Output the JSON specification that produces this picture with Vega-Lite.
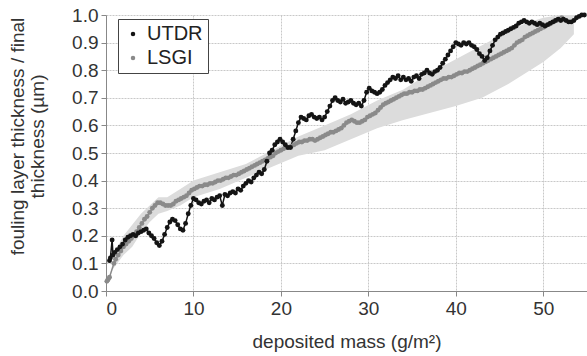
{
 "$schema": "https://vega.github.io/schema/vega-lite/v6.json",
 "width": 481, "height": 276,
 "autosize": {"type": "none"},
 "padding": {"left": 106, "top": 15, "right": 0, "bottom": 65},
 "background": "white",
 "config": {
  "font": "Liberation Sans",
  "view": {"stroke": null},
  "axis": {"labelFontSize": 19, "titleFontSize": 19, "titleFontWeight": "normal", "labelColor": "#333", "titleColor": "#333", "domainColor": "#888", "tickColor": "#888", "tickSize": 5, "labelPadding": 3, "gridColor": "#c8c8c8", "gridDash": [2, 1]},
  "legend": {"title": null, "orient": "none", "legendX": 12, "legendY": 4, "fillColor": "white", "strokeColor": "#444", "padding": 5, "labelFontSize": 20, "labelColor": "#222", "symbolSize": 20, "symbolType": "circle", "symbolStrokeWidth": 0, "rowPadding": 4, "labelOffset": 4}
 },
 "datasets": {
  "band": [
   {"x":0.8,"y":0.08,"hi":0.13},{"x":2,"y":0.13,"hi":0.2},{"x":3,"y":0.16,"hi":0.24},{"x":4,"y":0.21,"hi":0.28},{"x":5,"y":0.25,"hi":0.31},{"x":6,"y":0.28,"hi":0.34},{"x":7,"y":0.29,"hi":0.34},{"x":8.5,"y":0.31,"hi":0.37},{"x":10,"y":0.34,"hi":0.4},{"x":13,"y":0.37,"hi":0.43},{"x":16,"y":0.41,"hi":0.46},{"x":19,"y":0.45,"hi":0.51},{"x":22,"y":0.49,"hi":0.56},{"x":25,"y":0.51,"hi":0.6},{"x":28,"y":0.55,"hi":0.64},{"x":31,"y":0.59,"hi":0.69},{"x":34,"y":0.62,"hi":0.73},{"x":37,"y":0.645,"hi":0.79},{"x":40,"y":0.67,"hi":0.84},{"x":43,"y":0.7,"hi":0.89},{"x":46,"y":0.75,"hi":0.94},{"x":48,"y":0.79,"hi":0.97},{"x":50,"y":0.83,"hi":0.99},{"x":52,"y":0.88,"hi":1.0},{"x":53.5,"y":0.93,"hi":1.0}
  ],
  "pts": [
   {"s":"LSGI","x":0.1,"y":0.035},{"s":"LSGI","x":0.2,"y":0.04},{"s":"LSGI","x":0.3,"y":0.045},{"s":"LSGI","x":0.4,"y":0.05},
   {"s":"LSGI","x":0.9,"y":0.1},{"s":"LSGI","x":1.1,"y":0.115},{"s":"LSGI","x":1.4,"y":0.13},{"s":"LSGI","x":1.7,"y":0.145},{"s":"LSGI","x":2.0,"y":0.16},{"s":"LSGI","x":2.3,"y":0.17},{"s":"LSGI","x":2.6,"y":0.18},{"s":"LSGI","x":2.9,"y":0.19},{"s":"LSGI","x":3.2,"y":0.2},{"s":"LSGI","x":3.5,"y":0.215},{"s":"LSGI","x":3.8,"y":0.23},{"s":"LSGI","x":4.1,"y":0.245},{"s":"LSGI","x":4.4,"y":0.26},{"s":"LSGI","x":4.7,"y":0.27},{"s":"LSGI","x":5.0,"y":0.285},{"s":"LSGI","x":5.3,"y":0.3},{"s":"LSGI","x":5.6,"y":0.31},{"s":"LSGI","x":5.9,"y":0.32},{"s":"LSGI","x":6.2,"y":0.32},{"s":"LSGI","x":6.5,"y":0.315},{"s":"LSGI","x":6.8,"y":0.31},{"s":"LSGI","x":7.1,"y":0.31},{"s":"LSGI","x":7.4,"y":0.31},{"s":"LSGI","x":7.7,"y":0.315},{"s":"LSGI","x":8.0,"y":0.325},{"s":"LSGI","x":8.3,"y":0.33},{"s":"LSGI","x":8.6,"y":0.335},{"s":"LSGI","x":8.9,"y":0.34},{"s":"LSGI","x":9.2,"y":0.345},{"s":"LSGI","x":9.5,"y":0.355},{"s":"LSGI","x":9.8,"y":0.365},{"s":"LSGI","x":10.1,"y":0.37},{"s":"LSGI","x":10.4,"y":0.375},{"s":"LSGI","x":10.7,"y":0.38},{"s":"LSGI","x":11.0,"y":0.38},{"s":"LSGI","x":11.3,"y":0.385},{"s":"LSGI","x":11.6,"y":0.385},{"s":"LSGI","x":11.9,"y":0.39},{"s":"LSGI","x":12.2,"y":0.39},{"s":"LSGI","x":12.5,"y":0.395},{"s":"LSGI","x":12.8,"y":0.4},{"s":"LSGI","x":13.1,"y":0.4},{"s":"LSGI","x":13.4,"y":0.405},{"s":"LSGI","x":13.7,"y":0.41},{"s":"LSGI","x":14.0,"y":0.41},{"s":"LSGI","x":14.3,"y":0.415},{"s":"LSGI","x":14.6,"y":0.42},{"s":"LSGI","x":14.9,"y":0.42},{"s":"LSGI","x":15.2,"y":0.425},{"s":"LSGI","x":15.5,"y":0.43},{"s":"LSGI","x":15.8,"y":0.435},{"s":"LSGI","x":16.1,"y":0.44},{"s":"LSGI","x":16.4,"y":0.445},{"s":"LSGI","x":16.7,"y":0.45},{"s":"LSGI","x":17.0,"y":0.455},{"s":"LSGI","x":17.3,"y":0.46},{"s":"LSGI","x":17.6,"y":0.465},{"s":"LSGI","x":17.9,"y":0.47},{"s":"LSGI","x":18.2,"y":0.475},{"s":"LSGI","x":18.5,"y":0.48},{"s":"LSGI","x":18.8,"y":0.485},{"s":"LSGI","x":19.1,"y":0.49},{"s":"LSGI","x":19.4,"y":0.5},{"s":"LSGI","x":19.7,"y":0.505},{"s":"LSGI","x":20.0,"y":0.51},{"s":"LSGI","x":20.3,"y":0.515},{"s":"LSGI","x":20.6,"y":0.52},{"s":"LSGI","x":20.9,"y":0.52},{"s":"LSGI","x":21.2,"y":0.525},{"s":"LSGI","x":21.5,"y":0.53},{"s":"LSGI","x":21.8,"y":0.535},{"s":"LSGI","x":22.1,"y":0.54},{"s":"LSGI","x":22.4,"y":0.54},{"s":"LSGI","x":22.7,"y":0.545},{"s":"LSGI","x":23.0,"y":0.545},{"s":"LSGI","x":23.3,"y":0.55},{"s":"LSGI","x":23.6,"y":0.55},{"s":"LSGI","x":23.9,"y":0.545},{"s":"LSGI","x":24.2,"y":0.55},{"s":"LSGI","x":24.5,"y":0.555},{"s":"LSGI","x":24.8,"y":0.56},{"s":"LSGI","x":25.1,"y":0.565},{"s":"LSGI","x":25.4,"y":0.57},{"s":"LSGI","x":25.7,"y":0.575},{"s":"LSGI","x":26.0,"y":0.575},{"s":"LSGI","x":26.3,"y":0.58},{"s":"LSGI","x":26.6,"y":0.585},{"s":"LSGI","x":26.9,"y":0.59},{"s":"LSGI","x":27.2,"y":0.6},{"s":"LSGI","x":27.5,"y":0.61},{"s":"LSGI","x":27.8,"y":0.615},{"s":"LSGI","x":28.1,"y":0.62},{"s":"LSGI","x":28.4,"y":0.615},{"s":"LSGI","x":28.7,"y":0.61},{"s":"LSGI","x":29.0,"y":0.61},{"s":"LSGI","x":29.3,"y":0.615},{"s":"LSGI","x":29.6,"y":0.62},{"s":"LSGI","x":29.9,"y":0.63},{"s":"LSGI","x":30.2,"y":0.635},{"s":"LSGI","x":30.5,"y":0.64},{"s":"LSGI","x":30.8,"y":0.645},{"s":"LSGI","x":31.1,"y":0.655},{"s":"LSGI","x":31.4,"y":0.665},{"s":"LSGI","x":31.7,"y":0.675},{"s":"LSGI","x":32.0,"y":0.68},{"s":"LSGI","x":32.3,"y":0.685},{"s":"LSGI","x":32.6,"y":0.69},{"s":"LSGI","x":32.9,"y":0.695},{"s":"LSGI","x":33.2,"y":0.7},{"s":"LSGI","x":33.5,"y":0.705},{"s":"LSGI","x":33.8,"y":0.71},{"s":"LSGI","x":34.1,"y":0.715},{"s":"LSGI","x":34.4,"y":0.715},{"s":"LSGI","x":34.7,"y":0.72},{"s":"LSGI","x":35.0,"y":0.72},{"s":"LSGI","x":35.3,"y":0.725},{"s":"LSGI","x":35.6,"y":0.725},{"s":"LSGI","x":35.9,"y":0.73},{"s":"LSGI","x":36.2,"y":0.73},{"s":"LSGI","x":36.5,"y":0.735},{"s":"LSGI","x":36.8,"y":0.74},{"s":"LSGI","x":37.1,"y":0.745},{"s":"LSGI","x":37.4,"y":0.75},{"s":"LSGI","x":37.7,"y":0.755},{"s":"LSGI","x":38.0,"y":0.76},{"s":"LSGI","x":38.3,"y":0.765},{"s":"LSGI","x":38.6,"y":0.77},{"s":"LSGI","x":38.9,"y":0.77},{"s":"LSGI","x":39.2,"y":0.775},{"s":"LSGI","x":39.5,"y":0.775},{"s":"LSGI","x":39.8,"y":0.78},{"s":"LSGI","x":40.1,"y":0.785},{"s":"LSGI","x":40.4,"y":0.79},{"s":"LSGI","x":40.7,"y":0.79},{"s":"LSGI","x":41.0,"y":0.795},{"s":"LSGI","x":41.3,"y":0.795},{"s":"LSGI","x":41.6,"y":0.8},{"s":"LSGI","x":41.9,"y":0.805},{"s":"LSGI","x":42.2,"y":0.81},{"s":"LSGI","x":42.5,"y":0.815},{"s":"LSGI","x":42.8,"y":0.82},{"s":"LSGI","x":43.1,"y":0.825},{"s":"LSGI","x":43.4,"y":0.83},{"s":"LSGI","x":43.7,"y":0.835},{"s":"LSGI","x":44.0,"y":0.84},{"s":"LSGI","x":44.3,"y":0.845},{"s":"LSGI","x":44.6,"y":0.85},{"s":"LSGI","x":44.9,"y":0.855},{"s":"LSGI","x":45.2,"y":0.86},{"s":"LSGI","x":45.5,"y":0.865},{"s":"LSGI","x":45.8,"y":0.87},{"s":"LSGI","x":46.1,"y":0.875},{"s":"LSGI","x":46.4,"y":0.88},{"s":"LSGI","x":46.7,"y":0.89},{"s":"LSGI","x":47.0,"y":0.9},{"s":"LSGI","x":47.3,"y":0.905},{"s":"LSGI","x":47.6,"y":0.91},{"s":"LSGI","x":47.9,"y":0.92},{"s":"LSGI","x":48.2,"y":0.925},{"s":"LSGI","x":48.5,"y":0.93},{"s":"LSGI","x":48.8,"y":0.935},{"s":"LSGI","x":49.1,"y":0.94},{"s":"LSGI","x":49.4,"y":0.945},{"s":"LSGI","x":49.7,"y":0.95},{"s":"LSGI","x":50.0,"y":0.955},{"s":"LSGI","x":50.3,"y":0.96},{"s":"LSGI","x":50.6,"y":0.965},{"s":"LSGI","x":50.9,"y":0.97},{"s":"LSGI","x":51.2,"y":0.975},{"s":"LSGI","x":51.5,"y":0.98},{"s":"LSGI","x":51.8,"y":0.985},{"s":"LSGI","x":52.1,"y":0.99},
   {"s":"UTDR","x":0.4,"y":0.11},{"s":"UTDR","x":0.5,"y":0.12},{"s":"UTDR","x":0.7,"y":0.185},{"s":"UTDR","x":0.8,"y":0.13},{"s":"UTDR","x":1.0,"y":0.14},{"s":"UTDR","x":1.3,"y":0.15},{"s":"UTDR","x":1.6,"y":0.16},{"s":"UTDR","x":1.9,"y":0.17},{"s":"UTDR","x":2.2,"y":0.185},{"s":"UTDR","x":2.5,"y":0.195},{"s":"UTDR","x":2.8,"y":0.2},{"s":"UTDR","x":3.1,"y":0.205},{"s":"UTDR","x":3.4,"y":0.2},{"s":"UTDR","x":3.7,"y":0.21},{"s":"UTDR","x":4.0,"y":0.215},{"s":"UTDR","x":4.3,"y":0.22},{"s":"UTDR","x":4.6,"y":0.225},{"s":"UTDR","x":4.9,"y":0.21},{"s":"UTDR","x":5.2,"y":0.2},{"s":"UTDR","x":5.5,"y":0.19},{"s":"UTDR","x":5.8,"y":0.175},{"s":"UTDR","x":6.1,"y":0.165},{"s":"UTDR","x":6.4,"y":0.18},{"s":"UTDR","x":6.7,"y":0.205},{"s":"UTDR","x":7.0,"y":0.23},{"s":"UTDR","x":7.3,"y":0.25},{"s":"UTDR","x":7.6,"y":0.26},{"s":"UTDR","x":7.9,"y":0.255},{"s":"UTDR","x":8.2,"y":0.24},{"s":"UTDR","x":8.5,"y":0.225},{"s":"UTDR","x":8.8,"y":0.22},{"s":"UTDR","x":9.1,"y":0.245},{"s":"UTDR","x":9.4,"y":0.28},{"s":"UTDR","x":9.7,"y":0.31},{"s":"UTDR","x":10.0,"y":0.335},{"s":"UTDR","x":10.3,"y":0.33},{"s":"UTDR","x":10.6,"y":0.32},{"s":"UTDR","x":10.9,"y":0.315},{"s":"UTDR","x":11.2,"y":0.325},{"s":"UTDR","x":11.5,"y":0.33},{"s":"UTDR","x":11.8,"y":0.32},{"s":"UTDR","x":12.1,"y":0.335},{"s":"UTDR","x":12.4,"y":0.33},{"s":"UTDR","x":12.7,"y":0.34},{"s":"UTDR","x":13.0,"y":0.345},{"s":"UTDR","x":13.3,"y":0.31},{"s":"UTDR","x":13.6,"y":0.35},{"s":"UTDR","x":13.9,"y":0.345},{"s":"UTDR","x":14.2,"y":0.355},{"s":"UTDR","x":14.5,"y":0.36},{"s":"UTDR","x":14.8,"y":0.355},{"s":"UTDR","x":15.1,"y":0.37},{"s":"UTDR","x":15.4,"y":0.365},{"s":"UTDR","x":15.7,"y":0.38},{"s":"UTDR","x":16.0,"y":0.39},{"s":"UTDR","x":16.3,"y":0.4},{"s":"UTDR","x":16.6,"y":0.395},{"s":"UTDR","x":16.9,"y":0.41},{"s":"UTDR","x":17.2,"y":0.42},{"s":"UTDR","x":17.5,"y":0.43},{"s":"UTDR","x":17.8,"y":0.425},{"s":"UTDR","x":18.1,"y":0.44},{"s":"UTDR","x":18.4,"y":0.47},{"s":"UTDR","x":18.7,"y":0.5},{"s":"UTDR","x":19.0,"y":0.51},{"s":"UTDR","x":19.3,"y":0.53},{"s":"UTDR","x":19.6,"y":0.54},{"s":"UTDR","x":19.9,"y":0.55},{"s":"UTDR","x":20.2,"y":0.54},{"s":"UTDR","x":20.5,"y":0.53},{"s":"UTDR","x":20.8,"y":0.52},{"s":"UTDR","x":21.1,"y":0.52},{"s":"UTDR","x":21.4,"y":0.55},{"s":"UTDR","x":21.7,"y":0.58},{"s":"UTDR","x":22.0,"y":0.61},{"s":"UTDR","x":22.3,"y":0.63},{"s":"UTDR","x":22.6,"y":0.625},{"s":"UTDR","x":22.9,"y":0.62},{"s":"UTDR","x":23.2,"y":0.635},{"s":"UTDR","x":23.5,"y":0.64},{"s":"UTDR","x":23.8,"y":0.63},{"s":"UTDR","x":24.1,"y":0.625},{"s":"UTDR","x":24.4,"y":0.63},{"s":"UTDR","x":24.7,"y":0.62},{"s":"UTDR","x":25.0,"y":0.63},{"s":"UTDR","x":25.3,"y":0.65},{"s":"UTDR","x":25.6,"y":0.67},{"s":"UTDR","x":25.9,"y":0.69},{"s":"UTDR","x":26.2,"y":0.7},{"s":"UTDR","x":26.5,"y":0.69},{"s":"UTDR","x":26.8,"y":0.685},{"s":"UTDR","x":27.1,"y":0.695},{"s":"UTDR","x":27.4,"y":0.68},{"s":"UTDR","x":27.7,"y":0.685},{"s":"UTDR","x":28.0,"y":0.69},{"s":"UTDR","x":28.3,"y":0.68},{"s":"UTDR","x":28.6,"y":0.675},{"s":"UTDR","x":28.9,"y":0.68},{"s":"UTDR","x":29.2,"y":0.67},{"s":"UTDR","x":29.5,"y":0.69},{"s":"UTDR","x":29.8,"y":0.72},{"s":"UTDR","x":30.1,"y":0.735},{"s":"UTDR","x":30.4,"y":0.725},{"s":"UTDR","x":30.7,"y":0.72},{"s":"UTDR","x":31.0,"y":0.715},{"s":"UTDR","x":31.3,"y":0.72},{"s":"UTDR","x":31.6,"y":0.73},{"s":"UTDR","x":31.9,"y":0.745},{"s":"UTDR","x":32.2,"y":0.755},{"s":"UTDR","x":32.5,"y":0.765},{"s":"UTDR","x":32.8,"y":0.775},{"s":"UTDR","x":33.1,"y":0.77},{"s":"UTDR","x":33.4,"y":0.78},{"s":"UTDR","x":33.7,"y":0.765},{"s":"UTDR","x":34.0,"y":0.775},{"s":"UTDR","x":34.3,"y":0.765},{"s":"UTDR","x":34.6,"y":0.77},{"s":"UTDR","x":34.9,"y":0.76},{"s":"UTDR","x":35.2,"y":0.775},{"s":"UTDR","x":35.5,"y":0.78},{"s":"UTDR","x":35.8,"y":0.77},{"s":"UTDR","x":36.1,"y":0.785},{"s":"UTDR","x":36.4,"y":0.79},{"s":"UTDR","x":36.7,"y":0.8},{"s":"UTDR","x":37.0,"y":0.79},{"s":"UTDR","x":37.3,"y":0.785},{"s":"UTDR","x":37.6,"y":0.795},{"s":"UTDR","x":37.9,"y":0.8},{"s":"UTDR","x":38.2,"y":0.81},{"s":"UTDR","x":38.5,"y":0.825},{"s":"UTDR","x":38.8,"y":0.84},{"s":"UTDR","x":39.1,"y":0.855},{"s":"UTDR","x":39.4,"y":0.87},{"s":"UTDR","x":39.7,"y":0.885},{"s":"UTDR","x":40.0,"y":0.9},{"s":"UTDR","x":40.3,"y":0.895},{"s":"UTDR","x":40.6,"y":0.89},{"s":"UTDR","x":40.9,"y":0.9},{"s":"UTDR","x":41.2,"y":0.895},{"s":"UTDR","x":41.5,"y":0.9},{"s":"UTDR","x":41.8,"y":0.89},{"s":"UTDR","x":42.1,"y":0.885},{"s":"UTDR","x":42.4,"y":0.875},{"s":"UTDR","x":42.7,"y":0.86},{"s":"UTDR","x":43.0,"y":0.85},{"s":"UTDR","x":43.3,"y":0.835},{"s":"UTDR","x":43.6,"y":0.845},{"s":"UTDR","x":43.9,"y":0.87},{"s":"UTDR","x":44.2,"y":0.89},{"s":"UTDR","x":44.5,"y":0.91},{"s":"UTDR","x":44.8,"y":0.92},{"s":"UTDR","x":45.1,"y":0.93},{"s":"UTDR","x":45.4,"y":0.935},{"s":"UTDR","x":45.7,"y":0.94},{"s":"UTDR","x":46.0,"y":0.945},{"s":"UTDR","x":46.3,"y":0.95},{"s":"UTDR","x":46.6,"y":0.955},{"s":"UTDR","x":46.9,"y":0.96},{"s":"UTDR","x":47.2,"y":0.97},{"s":"UTDR","x":47.5,"y":0.975},{"s":"UTDR","x":47.8,"y":0.98},{"s":"UTDR","x":48.1,"y":0.975},{"s":"UTDR","x":48.4,"y":0.97},{"s":"UTDR","x":48.7,"y":0.975},{"s":"UTDR","x":49.0,"y":0.97},{"s":"UTDR","x":49.3,"y":0.965},{"s":"UTDR","x":49.6,"y":0.97},{"s":"UTDR","x":49.9,"y":0.965},{"s":"UTDR","x":50.2,"y":0.96},{"s":"UTDR","x":50.5,"y":0.965},{"s":"UTDR","x":50.8,"y":0.97},{"s":"UTDR","x":51.1,"y":0.975},{"s":"UTDR","x":51.4,"y":0.98},{"s":"UTDR","x":51.7,"y":0.985},{"s":"UTDR","x":52.0,"y":0.98},{"s":"UTDR","x":52.3,"y":0.985},{"s":"UTDR","x":52.6,"y":0.98},{"s":"UTDR","x":52.9,"y":0.975},{"s":"UTDR","x":53.2,"y":0.975},{"s":"UTDR","x":53.5,"y":0.98},{"s":"UTDR","x":53.8,"y":0.99},{"s":"UTDR","x":54.1,"y":0.995},{"s":"UTDR","x":54.4,"y":1.0},{"s":"UTDR","x":54.7,"y":1.0}
  ]
 },
 "encoding": {
  "x": {"field": "x", "type": "quantitative", "scale": {"domain": [0, 55], "nice": false, "zero": false},
        "axis": {"values": [0, 10, 20, 30, 40, 50], "title": "deposited mass (g/m²)", "titlePadding": 14, "grid": true}},
  "y": {"field": "y", "type": "quantitative", "scale": {"domain": [0, 1], "nice": false},
        "axis": {"values": [0, 0.1, 0.2, 0.3, 0.4, 0.5, 0.6, 0.7, 0.8, 0.9, 1.0], "format": ".1f", "title": ["fouling layer thickness / final", "thickness (µm)"], "titleX": -79, "titleY": 121, "titleLineHeight": 20, "grid": true}}
 },
 "layer": [
  {"data": {"name": "band"}, "mark": {"type": "area", "color": "#dcdcdc", "opacity": 1},
   "encoding": {"y2": {"field": "hi"}}},
  {"data": {"name": "pts"}, "mark": {"type": "line", "strokeWidth": 1.5},
   "encoding": {"color": {"field": "s", "type": "nominal", "scale": {"domain": ["UTDR", "LSGI"], "range": ["#141414", "#8a8a8a"]}}}},
  {"data": {"name": "pts"}, "mark": {"type": "point", "filled": true, "shape": "circle", "size": 24, "opacity": 1},
   "encoding": {"color": {"field": "s", "type": "nominal", "scale": {"domain": ["UTDR", "LSGI"], "range": ["#141414", "#8a8a8a"]}}}}
 ]
}
